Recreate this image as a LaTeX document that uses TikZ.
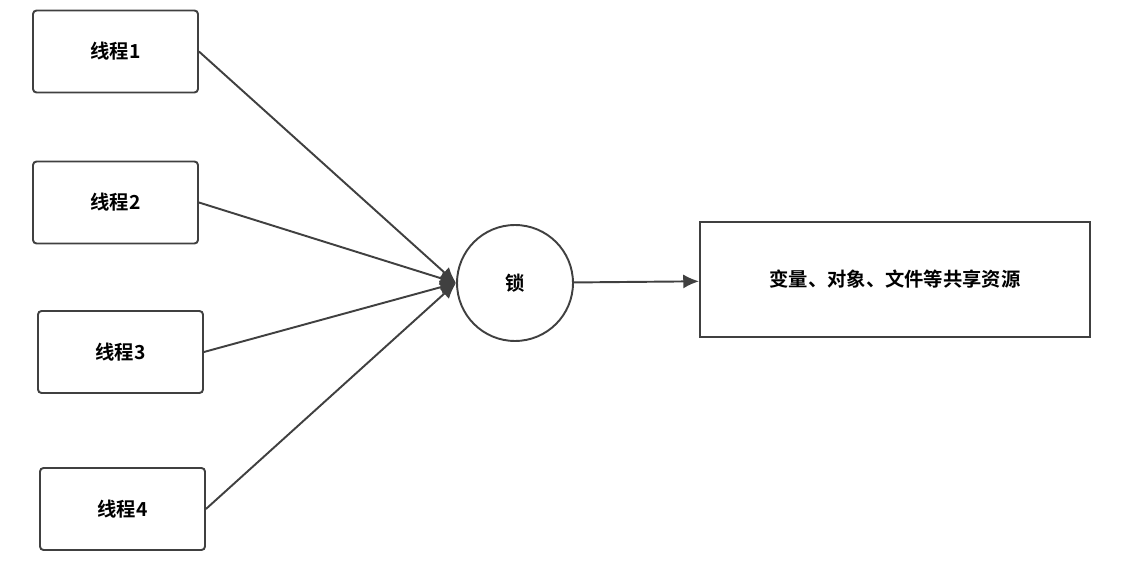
\documentclass[tikz,border=0pt]{standalone}
\usepackage{fontspec}
\setmainfont{Noto Sans CJK SC}[BoldFont={* Bold}]
\usetikzlibrary{arrows.meta}
\begin{document}
\begin{tikzpicture}[x=0.02cm, y=-0.02cm, line width=1.1pt, draw=black!75,
        thread/.style={draw, rounded corners=2pt, minimum width=3.3cm, minimum height=1.64cm, font=\bfseries\fontsize{11}{13}\selectfont},
        lock/.style={draw, circle, minimum size=2.32cm, font=\bfseries\fontsize{11}{13}\selectfont},
        res/.style={draw, minimum width=7.8cm, minimum height=2.3cm, font=\bfseries\fontsize{11}{13}\selectfont},
        arr/.style={-{Latex[length=9pt, width=8pt]}}]
        \useasboundingbox (0,0) rectangle (1137,564);
        % Nodes
        \node[thread] (t1) at (115.5,51.5) {线程1};
        \node[thread] (t2) at (115.5,202.5) {线程2};
        \node[thread] (t3) at (120.5,352) {线程3};
        \node[thread] (t4) at (122.5,509) {线程4};
        \node[lock] (lk) at (515,283) {锁};
        \node[res] (res) at (895,279.5) {变量、对象、文件等共享资源};
        
        % Arrows into the lock
        \draw[arr] (t1.east) -- (lk.west);
        \draw[arr] (t2.east) -- (lk.west);
        \draw[arr] (t3.east) -- (lk.west);
        \draw[arr] (t4.east) -- (lk.west);
        
        % Arrow to the resource
        \draw[arr] (lk) -- (res);
    \end{tikzpicture}
\end{document}
